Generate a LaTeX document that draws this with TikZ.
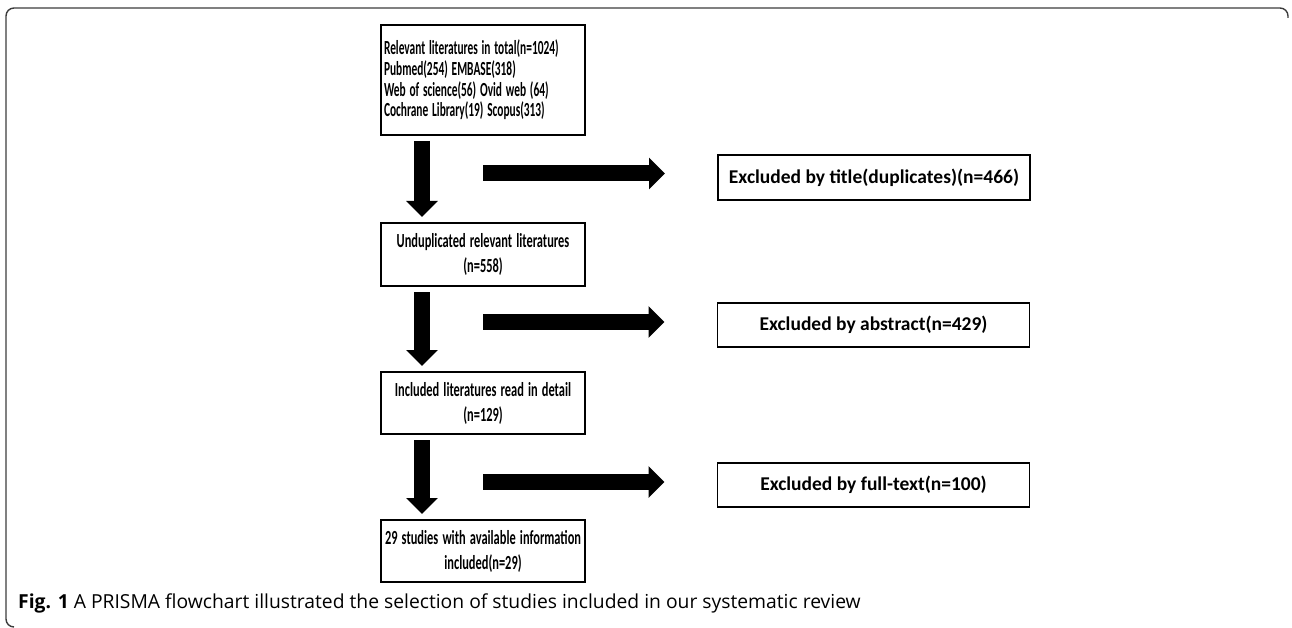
\documentclass[tikz,border=0pt]{standalone}
\usepackage{fontspec}
\setmainfont{Carlito}
\newfontfamily\capfont{Open Sans}
\usepackage{graphicx}
\usetikzlibrary{arrows.meta,positioning,calc}
\definecolor{framegray}{RGB}{60,60,60}

\tikzset{
  flowbox/.style={draw, line width=1.8pt, inner sep=3pt, outer sep=0pt,
    font=\bfseries\fontsize{20}{25}\selectfont},
  leftbox/.style={flowbox, minimum width=204pt, text width=198pt, align=center},
  exclbox/.style={flowbox, minimum width=312pt, minimum height=45pt, align=center,
    font=\bfseries\fontsize{19.5}{22}\selectfont},
  blockarrow/.style={line width=16pt, -{Triangle[width=31pt,length=16pt]}},
  downarrow/.style={blockarrow, shorten <=6pt, shorten >=6pt}
}
\newcommand{\sq}[1]{\scalebox{0.57}[1]{#1}}
\newcommand{\sqw}[1]{\scalebox{0.62}[1]{#1}}

\begin{document}
\begin{tikzpicture}[x=1pt,y=-1pt]
    \useasboundingbox (0,0) rectangle (1292,628);

    % Frame round the figure
    \draw[framegray, line width=1.4pt, rounded corners=8pt]
        (14,627) -- (6,627) -- (6,8) -- (1288,8) -- (1288,18);

    % Main column
    \node[leftbox, minimum height=110pt, align=left,
          font=\bfseries\fontsize{20}{20.7}\selectfont] (total) at (483,80)
        {\sq{Relevant literatures in total(n=1024)}\\
         \sq{Pubmed(254) EMBASE(318)}\\
         \sq{Web of science(56) Ovid web (64)}\\
         \sq{Cochrane Library(19) Scopus(313)}};
    \node[leftbox, minimum height=63pt] (undup) at (483,254.5)
        {\sqw{Unduplicated relevant literatures}\\\sqw{(n=558)}};
    \node[leftbox, minimum height=62pt] (detail) at (483,403)
        {\sqw{Included literatures read in detail}\\\sqw{(n=129)}};
    \node[leftbox, minimum height=62pt] (final) at (483,551)
        {\sqw{29 studies with available information}\\\sqw{included(n=29)}};

    % Exclusions
    \node[exclbox] (dup) at (874,177.5) {Excluded by title(duplicates)(n=466)};
    \node[exclbox, minimum height=44pt] (abs) at (873.5,325) {Excluded by abstract(n=429)};
    \node[exclbox, minimum height=44pt] (full) at (873.5,485) {Excluded by full-text(n=100)};

    % Down arrows
    \draw[downarrow] ([xshift=-61pt]total.south) -- ([xshift=-61pt]undup.north);
    \draw[downarrow] ([xshift=-61pt]undup.south) -- ([xshift=-61pt]detail.north);
    \draw[downarrow] ([xshift=-61pt]detail.south) -- ([xshift=-61pt]final.north);

    % Side arrows
    \draw[blockarrow] ($(total.south |- dup.west)+(0,-4)$) -- ($(dup.west)+(-53,-4)$);
    \draw[blockarrow] ($(total.south |- abs.west)+(0,-3)$) -- ($(abs.west)+(-53,-3)$);
    \draw[blockarrow] ($(total.south |- full.west)+(0,-3)$) -- ($(full.west)+(-53,-3)$);

    % Caption
    \node[anchor=base west, inner sep=0pt, font=\capfont\fontsize{19.3}{21}\selectfont]
        (caption) at (18,608)
        {\textbf{Fig. 1} A PRISMA flowchart illustrated the selection of studies included in our systematic review};
\end{tikzpicture}
\end{document}
